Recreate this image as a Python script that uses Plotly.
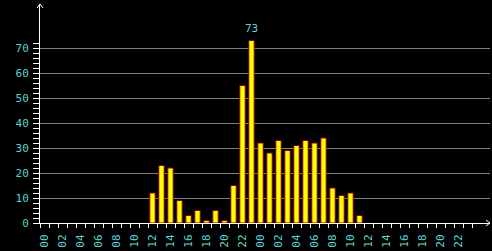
import plotly.graph_objects as go

# 48 hourly slots (two days), labels every 2 hours
slots = list(range(48))
values = [0, 0, 0, 0, 0, 0, 0, 0, 0, 0, 0, 0,
          12, 23, 22, 9, 3, 5, 1, 5, 1, 15, 55, 73,
          32, 28, 33, 29, 31, 33, 32, 34, 14, 11, 12, 3,
          0, 0, 0, 0, 0, 0, 0, 0, 0, 0, 0, 0]
tick_pos = list(range(0, 48, 2))
tick_labels = ["%02d" % h for h in range(0, 24, 2)] * 2
y_major = list(range(0, 80, 10))
y_minor = list(range(0, 74, 2))
x_bounds = [i - 0.5 for i in range(49)]

CYAN = "#5fd0d0"
FONT = "DejaVu Sans Mono"

bars_x = [s for s, v in zip(slots, values) if v > 0]
bars_y = [v for v in values if v > 0]

fig = go.Figure()
fig.add_trace(go.Bar(
    x=bars_x, y=bars_y, width=0.6,
    marker=dict(color="#ffff00", line=dict(color="#8a0000", width=1)),
    hoverinfo="x+y",
))

peak = max(values)
peak_x = values.index(peak)
fig.add_annotation(x=peak_x, y=peak, text=str(peak), showarrow=False,
                   yanchor="bottom", yshift=4,
                   font=dict(family=FONT, size=11, color=CYAN))

# axis arrows
arrow = dict(color="white", width=1)
for dy in (-3, 3):
    fig.add_shape(type="line", xref="paper", yref="paper",
                  xsizemode="pixel", ysizemode="pixel",
                  xanchor=1, yanchor=0, x0=-4, x1=0, y0=dy, y1=0, line=arrow)
    fig.add_shape(type="line", xref="paper", yref="paper",
                  xsizemode="pixel", ysizemode="pixel",
                  xanchor=0, yanchor=1, x0=dy, x1=0, y0=-4, y1=0, line=arrow)

fig.update_layout(
    width=492, height=251,
    margin=dict(l=40, r=2, t=4, b=28),
    paper_bgcolor="black", plot_bgcolor="black",
    showlegend=False,
    xaxis=dict(
        range=[-0.5, 49.5], showgrid=False, zeroline=False,
        showline=True, linecolor="white", linewidth=1,
        tickmode="array", tickvals=tick_pos, ticktext=tick_labels,
        tickangle=-90, ticks="outside", ticklen=0, ticklabelstandoff=6,
        tickfont=dict(family=FONT, size=11, color=CYAN),
        minor=dict(tickmode="array", tickvals=x_bounds, ticks="outside",
                   ticklen=4, tickcolor="white", tickwidth=1, showgrid=False),
    ),
    yaxis=dict(
        range=[0, 87.6], showgrid=True, gridcolor="#808080", gridwidth=1,
        zeroline=False, showline=True, linecolor="white", linewidth=1,
        tickmode="array", tickvals=y_major, ticks="outside", ticklen=6,
        tickcolor="white", tickwidth=1, ticklabelstandoff=2,
        tickfont=dict(family=FONT, size=11, color=CYAN),
        minor=dict(tickmode="array", tickvals=y_minor, ticks="outside",
                   ticklen=6, tickcolor="white", tickwidth=1, showgrid=False),
    ),
)

fig.write_html("out.html")
